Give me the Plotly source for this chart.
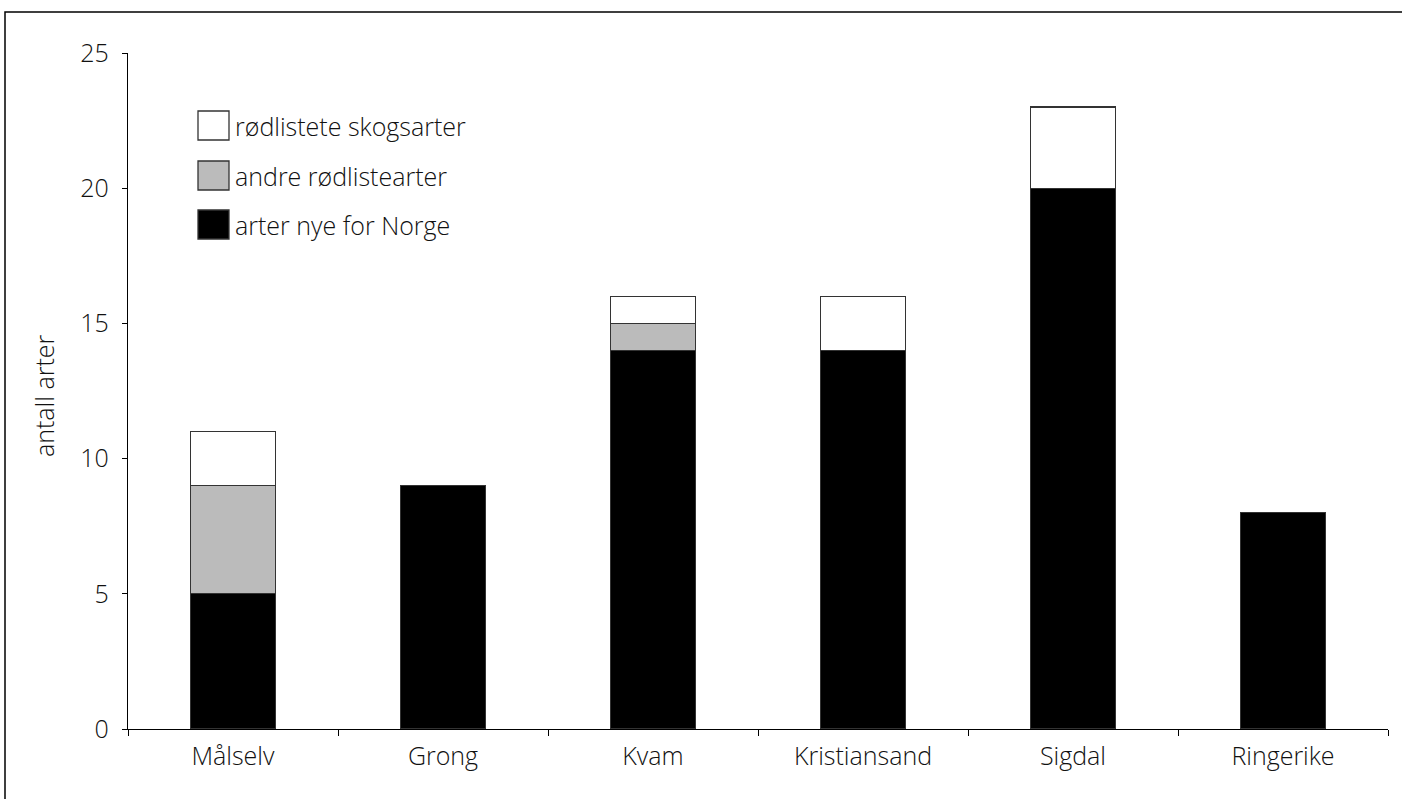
import plotly.graph_objects as go

categories = ["Målselv", "Grong", "Kvam", "Kristiansand", "Sigdal", "Ringerike"]
nye_for_norge = [5, 9, 14, 14, 20, 8]
andre_rodliste = [4, 0, 1, 0, 0, 0]
rodliste_skog = [2, 0, 1, 2, 3, 0]
y_ticks = [0, 5, 10, 15, 20, 25]
legend_labels = ["rødlistete skogsarter", "andre rødlistearter", "arter nye for Norge"]
y_title = "antall arter"

FONT = "Open Sans"
FS = 25
W, H = 1402, 799
L, R, T, B = 128, 14, 53, 70
pw, ph = W - L - R, H - T - B

def px_x(x):
    return (x - L) / pw

def px_y(y):
    return (H - B - y) / ph

tfont = dict(family=FONT, size=FS, color="#111111", weight=300)
line = dict(color="#333333", width=1.3)
fig = go.Figure()
fig.add_bar(x=categories, y=nye_for_norge, marker=dict(color="#000000", line=line),
            name=legend_labels[2], showlegend=False)
fig.add_bar(x=categories, y=andre_rodliste, marker=dict(color="#bbbbbb", line=line),
            name=legend_labels[1], showlegend=False)
fig.add_bar(x=categories, y=rodliste_skog, marker=dict(color="#ffffff", line=line),
            name=legend_labels[0], showlegend=False)

shapes = []
# outer frame (only top and left visible in the reference)
shapes.append(dict(type="rect", xref="paper", yref="paper",
                   x0=px_x(5), x1=px_x(1430), y0=px_y(830), y1=px_y(12),
                   line=dict(color="#000000", width=1.5), fillcolor="rgba(0,0,0,0)", layer="below"))
annotations = []
colors = ["#ffffff", "#bbbbbb", "#000000"]
tops = [111, 161, 210]
for lab, col, t in zip(legend_labels, colors, tops):
    shapes.append(dict(type="rect", xref="paper", yref="paper",
                       x0=px_x(198), x1=px_x(229), y0=px_y(t + 29), y1=px_y(t),
                       fillcolor=col, line=dict(color="#333333", width=1.3)))
    annotations.append(dict(text=lab, xref="paper", yref="paper", x=px_x(233), y=px_y(t + 15),
                            xanchor="left", yanchor="middle", showarrow=False, font=tfont))
annotations.append(dict(text=y_title, xref="paper", yref="paper", x=px_x(44), y=px_y(396),
                        xanchor="center", yanchor="middle", textangle=-90, showarrow=False,
                        font=tfont))

fig.update_layout(
    barmode="stack",
    bargap=0.595,
    width=W, height=H,
    margin=dict(l=L, r=R, t=T, b=B),
    paper_bgcolor="white", plot_bgcolor="white",
    font=tfont,
    shapes=shapes, annotations=annotations,
    showlegend=False,
)
fig.update_xaxes(showline=True, linecolor="#000000", linewidth=1.2,
                 ticks="outside", ticklen=6, tickcolor="#000000", tickson="boundaries",
                 showgrid=False, tickfont=tfont, ticklabelstandoff=5)
fig.update_yaxes(range=[0, 25], tickvals=y_ticks, showline=True, linecolor="#000000", linewidth=1.2,
                 ticks="outside", ticklen=5, tickcolor="#000000", showgrid=False, zeroline=False,
                 tickfont=tfont, ticklabelstandoff=8)

fig.write_html("out.html", config={"displayModeBar": False},
               post_script="document.body.style.margin='0';document.body.style.overflow='hidden';")
